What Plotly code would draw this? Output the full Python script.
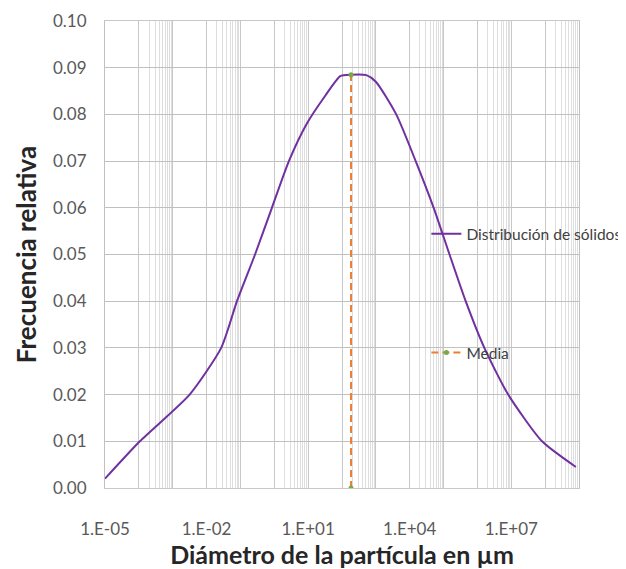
import plotly.graph_objects as go

# particle diameter (um) and relative frequency
diametro = [1e-5, 1.07e-4, 3.16e-3, 2.7e-2, 7.9e-2, 0.27, 0.85, 2.7, 9.1,
            32, 89, 185, 525, 1000, 4000, 1.5e4, 5.1e4, 1.5e5, 4.5e5,
            1.6e6, 8.1e6, 8.1e7, 8.1e8]
frecuencia = [0.0020, 0.0100, 0.0200, 0.0300, 0.0400, 0.0500, 0.0600, 0.0700,
              0.0780, 0.0840, 0.0882, 0.0885, 0.0884, 0.0870, 0.0800, 0.0700,
              0.0600, 0.0500, 0.0400, 0.0300, 0.0200, 0.0100, 0.0045]

media_x = [185, 185]
media_y = [0.0, 0.0885]

decadas = list(range(-5, 10))
etiquetas = {-5: "1.E-05", -2: "1.E-02", 1: "1.E+01", 4: "1.E+04", 7: "1.E+07"}

FONT = "Lato"
GRAY_TXT = "#595959"

fig = go.Figure()

fig.add_trace(go.Scatter(
    x=diametro, y=frecuencia, mode="lines", name="Distribución de sólidos",
    line=dict(color="#7030A0", width=2, shape="spline", smoothing=0.6),
    legend="legend",
))

fig.add_trace(go.Scatter(
    x=media_x, y=media_y, mode="lines+markers", name="Media",
    line=dict(color="#ED7D31", width=2, dash="7px,4px"),
    marker=dict(color="#70AD47", size=5),
    legend="legend2",
))

major_vals = [10.0 ** d for d in decadas]
major_text = [etiquetas.get(d, "") for d in decadas]
minor_vals = [k * 10.0 ** d for d in decadas if d % 2 == 0 and d < 9 for k in range(2, 10)]

fig.update_xaxes(
    type="log", range=[-5, 9], automargin=False,
    tickvals=major_vals, ticktext=major_text,
    showgrid=True, gridcolor="#c8c8c8", gridwidth=1,
    minor=dict(tickvals=minor_vals, showgrid=True, gridcolor="#dedede", gridwidth=1),
    showline=True, linecolor="#c8c8c8", mirror=True,
    ticks="", ticklabelstandoff=26,
    tickfont=dict(family=FONT, size=17, color=GRAY_TXT),
    title=dict(text="Diámetro de la partícula en µm", standoff=11,
               font=dict(family=FONT, size=25, color="#262626", weight="bold")),
    zeroline=False,
)

fig.update_yaxes(
    range=[0, 0.10], dtick=0.01, tickformat=".2f", automargin=False,
    showgrid=True, gridcolor="#c0c0c0", gridwidth=1,
    showline=True, linecolor="#c0c0c0", mirror=True,
    ticks="", ticklabelstandoff=14,
    tickfont=dict(family=FONT, size=17, color=GRAY_TXT),
    title=dict(text="Frecuencia relativa", standoff=8,
               font=dict(family=FONT, size=26, color="#262626", weight="bold")),
    zeroline=False,
)

legend_style = dict(
    xref="container", yref="container",
    xanchor="left", yanchor="middle", bgcolor="rgba(0,0,0,0)",
    font=dict(family=FONT, size=15.5, color="#404040"),
    itemwidth=30,
)

# the page body adds an 8px margin, so the figure is 8px smaller than the window
fig.update_layout(
    width=618, height=561,
    margin=dict(l=97, r=47, t=13, b=81, autoexpand=False),
    paper_bgcolor="white", plot_bgcolor="white",
    font=dict(family=FONT),
    legend=dict(x=0.677, y=0.597, **legend_style),
    legend2=dict(x=0.677, y=0.385, **legend_style),
    showlegend=True,
)

fig.write_html("out.html")
